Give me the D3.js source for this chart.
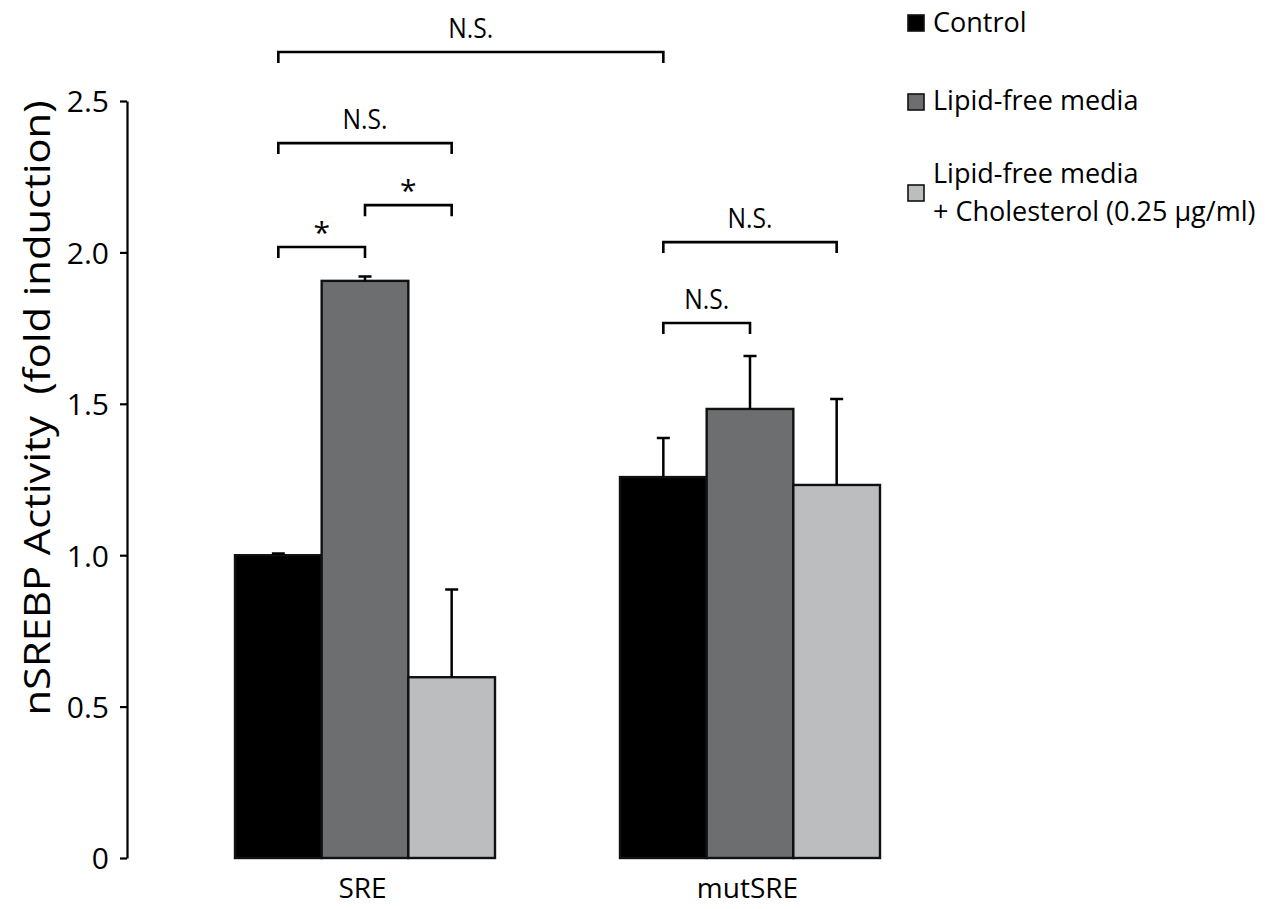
<!DOCTYPE html>
<html>
<head>
<meta charset="utf-8">
<script src="https://cdn.jsdelivr.net/npm/d3@7"></script>
<style>
  html, body { margin: 0; padding: 0; background: #fff; }
  svg { display: block; }
  text { font-family: "Open Sans", "Noto Sans", sans-serif; fill: #000; }
</style>
</head>
<body>
<svg id="chart" width="1270" height="909"></svg>
<script>
// ---- data ----
const groups = ["SRE", "mutSRE"];
const series = ["Control", "Lipid-free media", "Lipid-free media + Cholesterol (0.25 μg/ml)"];
const seriesColors = ["#000000", "#6d6e70", "#bcbdbf"];
const sreValues = [1.00, 1.906, 0.597];
const sreErrors = [0.006, 0.014, 0.29];
const mutValues = [1.258, 1.483, 1.232];
const mutErrors = [0.129, 0.175, 0.284];
const yTicks = [0, 0.5, 1.0, 1.5, 2.0, 2.5];
const yLabel = "nSREBP Activity  (fold induction)";
// significance brackets: [group1, series1, group2, series2, level (fold units), label]
const brackets = [
  ["SRE", 0, "mutSRE", 0, 2.662, "N.S."],
  ["SRE", 0, "SRE", 2, 2.361, "N.S."],
  ["SRE", 1, "SRE", 2, 2.156, "*"],
  ["SRE", 0, "SRE", 1, 2.018, "*"],
  ["mutSRE", 0, "mutSRE", 2, 2.034, "N.S."],
  ["mutSRE", 0, "mutSRE", 1, 1.767, "N.S."]
];

const values = { "SRE": sreValues, "mutSRE": mutValues };
const errors = { "SRE": sreErrors, "mutSRE": mutErrors };

const svg = d3.select("#chart");

const y = d3.scaleLinear().domain([0, 2.5]).range([858, 101]);
const x0 = d3.scalePoint().domain(groups).range([365, 750]);
const x1 = d3.scaleBand().domain(d3.range(series.length)).range([-130, 130]).paddingInner(0);

const cx = (g, i) => x0(g) + x1(i) + x1.bandwidth() / 2;

// ---- y axis ----
const yAxis = d3.axisLeft(y)
  .tickValues(yTicks)
  .tickFormat(d => d === 0 ? "0" : d3.format(".1f")(d))
  .tickSize(7)
  .tickSizeOuter(0)
  .tickPadding(11);

const gy = svg.append("g").attr("transform", "translate(127,0)").call(yAxis);
gy.select(".domain").attr("stroke", "#000").attr("stroke-width", 2.2);
gy.selectAll(".tick line").attr("stroke", "#000").attr("stroke-width", 2.2);
gy.selectAll(".tick text")
  .style("font-family", "'Open Sans', sans-serif")
  .style("font-size", "30px")
  .attr("dy", "0.36em");

// y label
svg.append("text")
  .attr("transform", "translate(50,408) rotate(-90)")
  .attr("text-anchor", "middle")
  .style("font-size", "36px")
  .style("white-space", "pre")
  .attr("textLength", 615)
  .attr("lengthAdjust", "spacingAndGlyphs")
  .text(yLabel);

// ---- x labels ----
const xAxis = d3.axisBottom(x0).tickSize(0).tickPadding(0);
const gx = svg.append("g").attr("transform", "translate(-3,898)").call(xAxis);
gx.select(".domain").remove();
gx.selectAll(".tick text")
  .attr("dy", 0)
  .attr("y", 0)
  .style("font-family", "'Open Sans', sans-serif")
  .style("font-size", "28px");

// ---- bars ----
const barData = [];
groups.forEach(g => values[g].forEach((v, i) => barData.push({ g, i, v, e: errors[g][i] })));

svg.append("g").selectAll("rect")
  .data(barData)
  .join("rect")
  .attr("x", d => x0(d.g) + x1(d.i))
  .attr("y", d => y(d.v))
  .attr("width", x1.bandwidth())
  .attr("height", d => y(0) - y(d.v))
  .attr("fill", d => seriesColors[d.i])
  .attr("stroke", "#111")
  .attr("stroke-width", 2.4);

// error bars
svg.append("g").attr("stroke", "#000").attr("stroke-width", 2.5).attr("fill", "none")
  .selectAll("path")
  .data(barData)
  .join("path")
  .attr("d", d => {
    const c = cx(d.g, d.i);
    const t = y(d.v + d.e);
    return `M${c},${y(d.v)}V${t}M${c - 6.5},${t}H${c + 6.5}`;
  });

// ---- significance brackets ----
const bg = svg.append("g");
brackets.forEach(([g1, s1, g2, s2, lvl, lab]) => {
  const xa = cx(g1, s1), xb = cx(g2, s2), yy = y(lvl);
  bg.append("path")
    .attr("d", `M${xa},${yy + 11}V${yy}H${xb}V${yy + 11}`)
    .attr("fill", "none")
    .attr("stroke", "#000")
    .attr("stroke-width", 2.6);
  if (lab === "*") {
    bg.append("text")
      .attr("x", (xa + xb) / 2)
      .attr("y", yy - 4)
      .attr("text-anchor", "middle")
      .style("font-size", "30px")
      .text(lab);
  } else {
    bg.append("text")
      .attr("x", (xa + xb) / 2)
      .attr("y", yy - 14)
      .attr("text-anchor", "middle")
      .style("font-size", "27px")
      .attr("textLength", 45)
      .attr("lengthAdjust", "spacingAndGlyphs")
      .text(lab);
  }
});

// ---- legend ----
const legendRows = [
  { i: 0, lines: ["Control"], sy: 15, by: [32] },
  { i: 1, lines: ["Lipid-free media"], sy: 94, by: [110] },
  { i: 2, lines: ["Lipid-free media", "+ Cholesterol (0.25 μg/ml)"], sy: 185, by: [183, 221] }
];
const lg = svg.append("g");
legendRows.forEach(r => {
  lg.append("rect")
    .attr("x", 908).attr("y", r.sy)
    .attr("width", 16).attr("height", 16)
    .attr("fill", seriesColors[r.i])
    .attr("stroke", "#111").attr("stroke-width", 1.6);
  r.lines.forEach((ln, k) => {
    lg.append("text")
      .attr("x", 933).attr("y", r.by[k])
      .style("font-size", "27px")
      .text(ln);
  });
});
</script>
</body>
</html>
